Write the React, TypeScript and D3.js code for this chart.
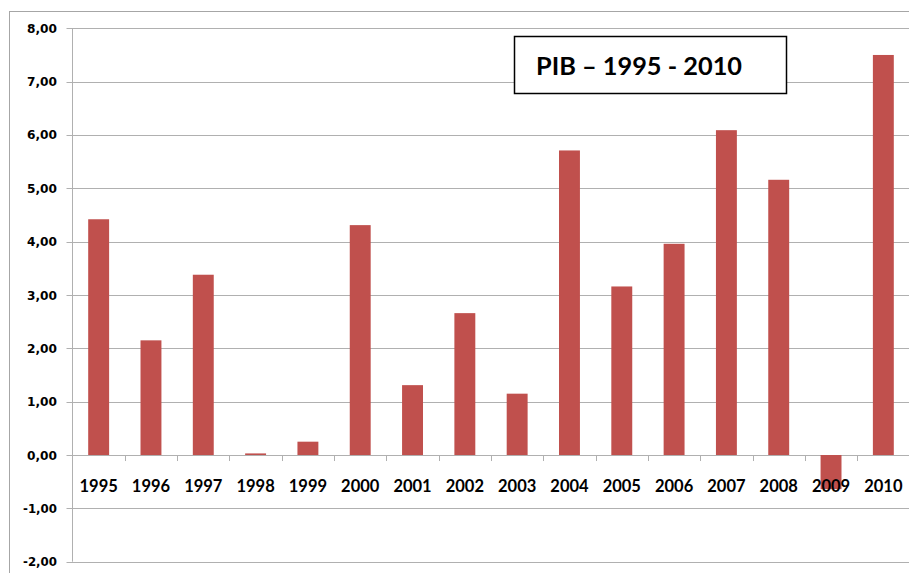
import React from "react";
import * as d3 from "d3";

const years = ["1995","1996","1997","1998","1999","2000","2001","2002","2003","2004","2005","2006","2007","2008","2009","2010"];
const values = [4.42, 2.15, 3.38, 0.03, 0.25, 4.31, 1.31, 2.66, 1.15, 5.71, 3.16, 3.96, 6.09, 5.16, -0.64, 7.5];
const yTicks = [-2, -1, 0, 1, 2, 3, 4, 5, 6, 7, 8];
const title = "PIB – 1995 - 2010";

export default function App() {
  const W = 909, H = 573;
  const left = 72.5, right = 909.5, top = 28.3, bottom = 561.7;
  const x = d3.scaleBand<string>().domain(years).range([left, right]).paddingInner(0).paddingOuter(0);
  const y = d3.scaleLinear().domain([-2, 8]).range([bottom, top]);
  const bw = x.bandwidth() * 0.4;
  const fmt = (v: number) => v.toFixed(2).replace(".", ",");
  const grid = "#b0b0b0";
  return (
    <svg width={W} height={H} style={{ position: "absolute", left: 0, top: 0, background: "#fff" }}>
      <rect x={9.5} y={11.5} width={1000} height={1000} fill="#fff" stroke="#a6a6a6" strokeWidth={1} />
      {yTicks.map((t) => (
        <g key={t}>
          <line x1={left - 6} x2={right} y1={Math.round(y(t)) + 0.5} y2={Math.round(y(t)) + 0.5} stroke={grid} strokeWidth={1} />
          <text x={57} y={y(t) + 4.5} textAnchor="end" fontFamily="DejaVu Sans" fontWeight="bold" fontSize={12.5} fill="#000" textLength={t < 0 ? 34 : 30} lengthAdjust="spacingAndGlyphs">{fmt(t)}</text>
        </g>
      ))}
      <line x1={left} x2={left} y1={top} y2={bottom} stroke={grid} strokeWidth={1} />
      {years.map((yr, i) => {
        const v = values[i];
        const y0 = y(0), y1 = y(v);
        return (
          <rect key={yr} x={x(yr)! + (x.bandwidth() - bw) / 2} y={Math.min(y0, y1)} width={bw} height={Math.abs(y1 - y0)} fill="#C0504D" />
        );
      })}
      {years.map((yr) => (
        <line key={"t" + yr} x1={Math.round(x(yr)! + x.bandwidth()) + 0.5} x2={Math.round(x(yr)! + x.bandwidth()) + 0.5} y1={y(0)} y2={y(0) + 6} stroke={grid} strokeWidth={1} />
      ))}
      {years.map((yr) => (
        <text key={"l" + yr} x={x(yr)! + x.bandwidth() / 2} y={492} textAnchor="middle" fontFamily="Lato" fontWeight="bold" fontSize={16.5} fill="#000">{yr}</text>
      ))}
      <rect x={514.5} y={36.5} width={272} height={57} fill="#fff" stroke="#000" strokeWidth={1.5} />
      <text x={536} y={75} fontFamily="Lato" fontWeight="bold" fontSize={25} fill="#000" textLength={206} lengthAdjust="spacingAndGlyphs">{title}</text>
    </svg>
  );
}
